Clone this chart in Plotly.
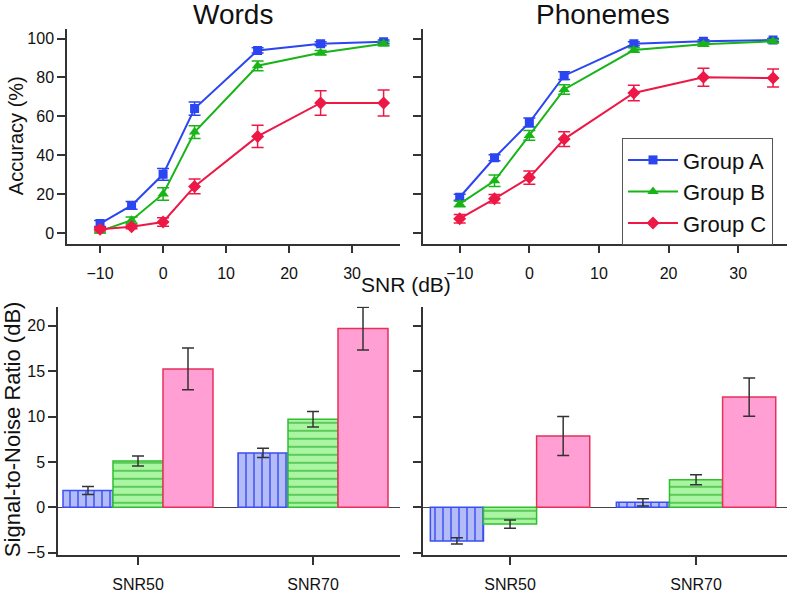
import plotly.graph_objects as go

# ---------------- data ----------------
snr = [-10, -5, 0, 5, 15, 25, 35]
groups = ["Group A", "Group B", "Group C"]

words_A = [4.9, 14.2, 30.2, 64.0, 93.9, 97.3, 98.3]
words_A_err = [1.5, 2.0, 3.0, 3.4, 1.3, 1.0, 1.0]
words_B = [1.0, 6.6, 20.1, 51.9, 86.0, 92.7, 97.3]
words_B_err = [1.0, 1.7, 3.2, 3.3, 2.5, 1.2, 1.0]
words_C = [2.0, 3.2, 5.7, 24.0, 49.7, 66.9, 66.9]
words_C_err = [1.0, 1.0, 2.2, 3.8, 5.7, 6.3, 6.7]

phon_A = [18.4, 38.7, 56.8, 80.9, 97.3, 98.6, 99.2]
phon_A_err = [1.5, 1.5, 2.3, 2.0, 1.0, 0.8, 0.8]
phon_B = [15.0, 26.9, 50.2, 73.8, 94.1, 97.0, 98.6]
phon_B_err = [1.5, 2.9, 2.5, 2.4, 1.2, 1.0, 0.8]
phon_C = [7.4, 17.6, 28.5, 48.3, 72.0, 80.1, 79.7]
phon_C_err = [2.2, 2.2, 3.4, 3.8, 4.0, 4.6, 4.6]

measures = ["SNR50", "SNR70"]
words_bar_A = [1.85, 6.0]
words_bar_A_err = [0.45, 0.5]
words_bar_B = [5.1, 9.7]
words_bar_B_err = [0.55, 0.85]
words_bar_C = [15.25, 19.7]
words_bar_C_err = [2.3, 2.35]

phon_bar_A = [-3.7, 0.55]
phon_bar_A_err = [0.35, 0.4]
phon_bar_B = [-1.85, 3.05]
phon_bar_B_err = [0.45, 0.55]
phon_bar_C = [7.85, 12.15]
phon_bar_C_err = [2.15, 2.1]

x_ticks = [-10, 0, 10, 20, 30]
x_tick_text = ["\u221210", "0", "10", "20", "30"]
acc_ticks = [0, 20, 40, 60, 80, 100]
snr_ticks = [-5, 0, 5, 10, 15, 20]
snr_tick_text = ["\u22125", "0", "5", "10", "15", "20"]

# ---------------- styles ----------------
FONT = "Liberation Sans, Arial, sans-serif"
line_colors = ["#2b45f0", "#18b418", "#ee1846"]
symbols = ["square", "triangle-up", "diamond"]
msizes = [9, 10, 10]
bar_fill = ["#b3bcf6", "#a9f5a2", "#ff9fd3"]
bar_line = ["#3a4ff0", "#2fbf2f", "#e8305a"]
AXC = "#333333"

fig = go.Figure()

line_sets = [
    ("x", "y", [words_A, words_B, words_C], [words_A_err, words_B_err, words_C_err], True),
    ("x2", "y2", [phon_A, phon_B, phon_C], [phon_A_err, phon_B_err, phon_C_err], False),
]
for xa, ya, vals, errs, show in line_sets:
    for i in range(3):
        fig.add_trace(go.Scatter(
            x=snr, y=vals[i], xaxis=xa, yaxis=ya,
            mode="lines+markers", name=groups[i], showlegend=show,
            legendgroup=groups[i],
            line=dict(color=line_colors[i], width=2),
            marker=dict(symbol=symbols[i], size=msizes[i], color=line_colors[i]),
            error_y=dict(type="data", array=errs[i], visible=True,
                         color=line_colors[i], thickness=1.5, width=6),
        ))

patterns = [
    dict(shape="|", fgcolor="#3a4ff0", bgcolor="#b3bcf6", size=8, solidity=0.18, fillmode="replace"),
    dict(shape="-", fgcolor="#22a822", bgcolor="#a9f5a2", size=8, solidity=0.14, fillmode="replace"),
    dict(shape=""),
]
bar_sets = [
    ("x3", "y3", [words_bar_A, words_bar_B, words_bar_C], [words_bar_A_err, words_bar_B_err, words_bar_C_err]),
    ("x4", "y4", [phon_bar_A, phon_bar_B, phon_bar_C], [phon_bar_A_err, phon_bar_B_err, phon_bar_C_err]),
]
for xa, ya, vals, errs in bar_sets:
    for i in range(3):
        fig.add_trace(go.Bar(
            x=measures, y=vals[i], xaxis=xa, yaxis=ya, name=groups[i],
            showlegend=False, offsetgroup=str(i), legendgroup=groups[i],
            marker=dict(color=bar_fill[i], line=dict(color=bar_line[i], width=1.5),
                        pattern=patterns[i]),
            error_y=dict(type="data", array=errs[i], visible=True,
                         color=AXC, thickness=1.5, width=6),
        ))

W, H = 787, 593


def px_x(a, b):
    return [max(0, a / W), min(1, b / W)]


def px_y(top, bottom):
    return [1 - bottom / H, 1 - top / H]


def ax(**extra):
    d = dict(showline=True, linecolor=AXC, linewidth=1.5, ticks="outside",
             ticklen=8, tickwidth=1.5, tickcolor=AXC, showgrid=False,
             zeroline=False, tickfont=dict(size=16, color="#111", family=FONT))
    d.update(extra)
    return d


fig.update_layout(
    width=W, height=H,
    margin=dict(l=0, r=0, t=0, b=0),
    paper_bgcolor="white", plot_bgcolor="white",
    font=dict(family=FONT, color="#111"),
    barmode="group", bargap=0.143, bargroupgap=0,
    xaxis=ax(domain=px_x(67, 400), anchor="y", range=[-15.25, 37.6],
             tickvals=x_ticks, ticktext=x_tick_text, ticklabelstandoff=6),
    yaxis=ax(domain=px_y(29, 247), anchor="x", range=[-5.45, 105.1],
             tickvals=acc_ticks),
    xaxis2=ax(domain=px_x(423, 787), anchor="y2", range=[-15.27, 37.0],
              tickvals=x_ticks, ticktext=x_tick_text, ticklabelstandoff=6),
    yaxis2=ax(domain=px_y(29, 247), anchor="x2", range=[-5.45, 105.1],
              tickvals=acc_ticks, showticklabels=False),
    xaxis3=ax(domain=px_x(58, 400), anchor="y3", type="category",
              range=[-0.457, 1.497], ticklabelstandoff=6),
    yaxis3=ax(domain=px_y(311, 563), anchor="x3", range=[-5.3, 22.1],
              tickvals=snr_ticks, ticktext=snr_tick_text,
              zeroline=True, zerolinecolor="#444", zerolinewidth=1.2),
    xaxis4=ax(domain=px_x(423, 787), anchor="y4", type="category",
              range=[-0.468, 1.489], ticklabelstandoff=6),
    yaxis4=ax(domain=px_y(311, 563), anchor="x4", range=[-5.3, 22.1],
              tickvals=snr_ticks, showticklabels=False,
              zeroline=True, zerolinecolor="#444", zerolinewidth=1.2),
    legend=dict(x=622 / W, y=1 - 140 / H, xanchor="left", yanchor="top",
                bordercolor="#555", borderwidth=1, bgcolor="white",
                font=dict(size=22, family=FONT, color="#111"),
                itemwidth=50, tracegroupgap=0),
)

annos = [
    dict(text="Words", x=233, y=15, size=28, angle=0),
    dict(text="Phonemes", x=603, y=15, size=28, angle=0),
    dict(text="SNR (dB)", x=406, y=288, size=21, angle=0),
    dict(text="Accuracy (%)", x=16, y=138, size=20, angle=-90),
    dict(text="Signal-to-Noise Ratio (dB)", x=12, y=435, size=22, angle=-90),
]
for a in annos:
    fig.add_annotation(text=a["text"], x=a["x"] / W, y=1 - a["y"] / H,
                       xref="paper", yref="paper",
                       xanchor="center", yanchor="middle", showarrow=False,
                       textangle=a["angle"], font=dict(size=a["size"], family=FONT, color="#111"))

fig.write_html(
    "out.html",
    config={"displayModeBar": False},
    post_script="document.documentElement.style.margin='0';document.body.style.margin='0';"
                "document.body.style.overflow='hidden';",
)
